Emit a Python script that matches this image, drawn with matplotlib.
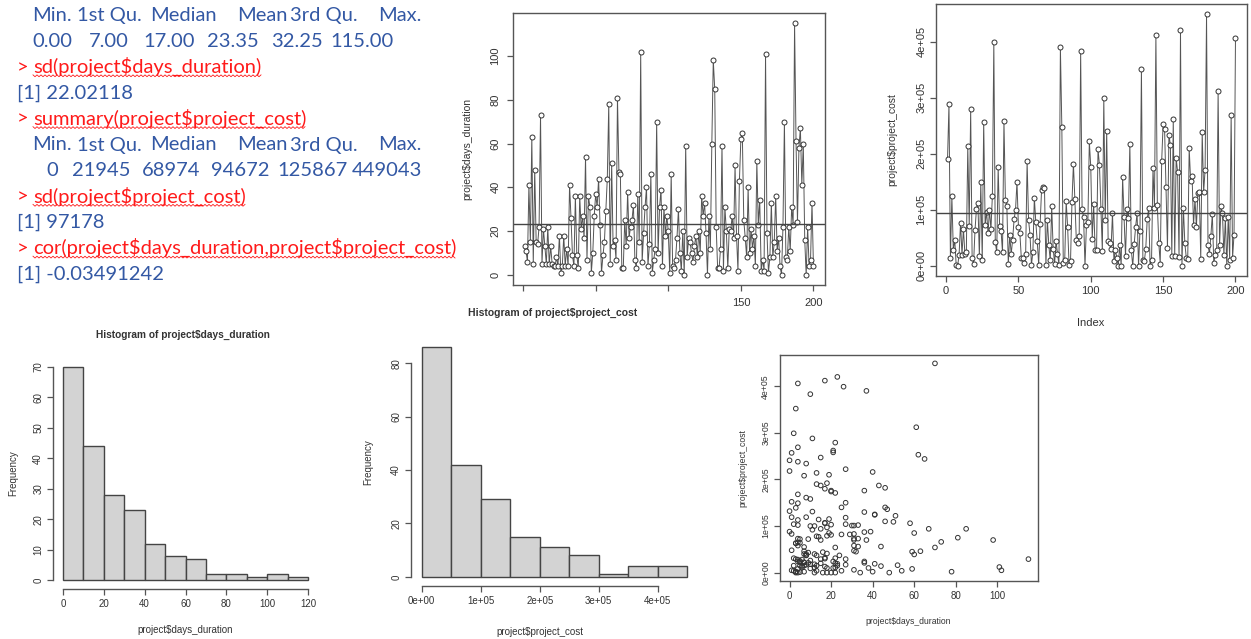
import numpy as np
import matplotlib.pyplot as plt

plt.rcParams['text.parse_math'] = False

W, H = 1251, 639

# project data, one value per project (index 1..200)
days_duration = [
    13, 11, 6, 41, 15, 63, 5, 48, 15, 14,
    22, 73, 5, 21, 13, 5, 22, 5, 13, 5,
    4, 4, 8, 4, 18, 1, 4, 18, 4, 12,
    4, 41, 26, 9, 4, 36, 9, 3, 36, 21,
    27, 17, 54, 7, 36, 31, 1, 10, 27, 37,
    31, 44, 23, 1, 9, 15, 29, 44, 78, 5,
    51, 13, 16, 7, 81, 47, 46, 3, 3, 25,
    13, 38, 17, 22, 25, 32, 7, 3, 37, 15,
    102, 6, 19, 31, 40, 4, 14, 46, 1, 7,
    12, 70, 10, 31, 39, 4, 31, 18, 27, 20,
    1, 46, 4, 3, 7, 17, 30, 10, 2, 20,
    0, 59, 8, 17, 15, 10, 6, 13, 18, 8,
    20, 10, 36, 27, 33, 19, 0, 27, 12, 60,
    98, 85, 22, 3, 3, 12, 59, 2, 31, 20,
    3, 21, 20, 27, 17, 50, 18, 2, 43, 62,
    65, 25, 17, 8, 40, 10, 21, 12, 18, 4,
    52, 23, 34, 2, 7, 2, 101, 19, 1, 8,
    33, 8, 15, 36, 11, 17, 4, 0, 22, 70,
    8, 7, 22, 11, 31, 23, 115, 61, 24, 58,
    67, 41, 60, 16, 0, 22, 4, 7, 33, 4,
]

# cost in thousands
project_cost_k = [
    190, 288, 14, 124, 29, 46, 1, 0, 20, 77,
    20, 66, 22, 24, 214, 72, 279, 15, 4, 64,
    102, 113, 17, 149, 10, 257, 73, 97, 58, 100,
    65, 125, 399, 43, 24, 176, 72, 63, 24, 258,
    118, 107, 4, 55, 21, 47, 83, 100, 150, 70,
    58, 14, 15, 5, 21, 187, 82, 56, 2, 25,
    122, 78, 44, 2, 75, 136, 140, 139, 2, 82,
    37, 10, 106, 31, 4, 45, 22, 2, 390, 247,
    5, 11, 115, 70, 2, 8, 114, 182, 119, 46,
    40, 54, 383, 101, 88, 0, 73, 79, 222, 176,
    48, 110, 28, 29, 208, 180, 101, 26, 299, 81,
    241, 45, 40, 30, 94, 9, 28, 15, 0, 37,
    0, 158, 87, 17, 102, 85, 218, 29, 0, 39,
    70, 94, 0, 63, 352, 11, 8, 31, 83, 103,
    0, 10, 174, 104, 412, 109, 41, 4, 187, 253,
    244, 140, 32, 234, 216, 18, 262, 18, 192, 168,
    16, 420, 0, 104, 40, 15, 12, 210, 152, 161,
    73, 119, 70, 130, 131, 13, 238, 132, 171, 449,
    37, 22, 54, 92, 6, 19, 29, 312, 37, 106,
    94, 19, 85, 0, 88, 11, 269, 15, 56, 406,
]
project_cost = np.array(project_cost_k) * 1000

summary_names = ['Min.', '1st Qu.', 'Median', 'Mean', '3rd Qu.', 'Max.']
days_summary = [0.00, 7.00, 17.00, 23.35, 32.25, 115.00]
cost_summary = [0, 21945, 68974, 94672, 125867, 449043]
days_sd = 22.02118
cost_sd = 97178
days_cost_cor = -0.03491242

days_bins = [0, 10, 20, 30, 40, 50, 60, 70, 80, 90, 100, 110, 120]
days_counts = [70, 44, 28, 23, 12, 8, 7, 2, 2, 1, 2, 1]
cost_bins = [0, 50000, 100000, 150000, 200000, 250000, 300000, 350000, 400000, 450000]
cost_counts = [86, 42, 29, 15, 11, 8, 1, 4, 4]

BLUE = '#3358a4'
RED = '#ff1a1a'
AX = '#555555'
TXT = '#333333'

fig = plt.figure(figsize=(W / 100, H / 100), dpi=100)
fig.patch.set_facecolor('white')


def px_axes(x0, y0, x1, y1):
    return fig.add_axes([x0 / W, 1 - y1 / H, (x1 - x0) / W, (y1 - y0) / H])


def px_text(x, y, s, **kw):
    fig.text(x / W, 1 - y / H, s, ha='center', va='center', color=TXT,
             family='Liberation Sans', **kw)


def r_axes(ax, size, box=True, pad=4, ysize=None):
    for s in ax.spines.values():
        s.set_color(AX)
        s.set_linewidth(1.0)
        s.set_visible(box)
    ax.tick_params(colors=AX, labelcolor=TXT, length=4, width=0.9,
                   labelsize=size, pad=pad)
    if ysize:
        ax.tick_params(axis='y', labelsize=ysize)
    for lab in ax.get_xticklabels() + ax.get_yticklabels():
        lab.set_family('Liberation Sans')
    plt.setp(ax.get_yticklabels(), rotation=90, va='center')


def sci(v):
    return '%de+%02d' % (int(round(v / 1e5)), 5) if v else '0e+00'


# ---- console output ----
tx = fig.add_axes([0, 0, 458 / W, 1])
tx.set_xlim(0, 458)
tx.set_ylim(H, 0)
tx.axis('off')
font = dict(family='Lato', fontsize=14.5, va='baseline', clip_on=True)
base = [21 + 25.9 * i for i in range(11)]


def row(y, items, color=BLUE):
    for x, s in items:
        tx.text(x, y, s, color=color, **font)


def command(y, s):
    tx.text(17, y, '>', color=RED, **font)
    t = tx.text(33, y, s, color=RED, **font)
    fig.canvas.draw()
    bb = t.get_window_extent().transformed(tx.transData.inverted())
    xs = np.arange(33, bb.x1, 2.0)
    ys = y + 3 + np.where(np.arange(len(xs)) % 2, 0.9, -0.9)
    tx.plot(xs, ys, color=RED, lw=0.6, clip_on=True)


head_x = [32, 77, 150, 237, 290, 378]
row(base[0], zip(head_x, summary_names))
row(base[1], zip([32, 89, 143, 207, 271, 330], ['%.2f' % v for v in days_summary]))
command(base[2], 'sd(project$days_duration)')
row(base[3], [(17, '[1] %.5f' % days_sd)])
command(base[4], 'summary(project$project_cost)')
row(base[5], zip(head_x, summary_names))
row(base[6], zip([46, 72, 142, 211, 277, 352], ['%d' % v for v in cost_summary]))
command(base[7], 'sd(project$project_cost)')
row(base[8], [(17, '[1] %d' % cost_sd)])
command(base[9], 'cor(project$days_duration,project$project_cost)')
row(base[10], [(17, '[1] %.8f' % days_cost_cor)])

idx = np.arange(1, len(days_duration) + 1)

# ---- days by index ----
ax1 = px_axes(513, 13, 825, 285)
ax1.plot(idx, days_duration, color='#555555', lw=0.7, marker='o', ms=3.6,
         mfc='white', mec='#333333', mew=0.7)
ax1.axhline(days_summary[3], color='#444444', lw=1.0)
ax1.set_xlim(1 - 0.04 * 199, 200 + 0.04 * 199)
ax1.set_ylim(-0.04 * 115, 115 * 1.04)
ax1.set_xticks([0, 50, 100, 150, 200])
ax1.set_xticklabels(['', '', '', '150', '200'])
ax1.set_yticks([0, 20, 40, 60, 80, 100])
r_axes(ax1, 8, pad=5)
px_text(467, 149, 'project$days_duration', fontsize=7.5, rotation=90)

# ---- cost by index ----
ax2 = px_axes(936, 4, 1247, 276)
ax2.plot(idx, project_cost, color='#555555', lw=0.7, marker='o', ms=3.6,
         mfc='white', mec='#333333', mew=0.7)
ax2.axhline(cost_summary[3], color='#444444', lw=1.0)
ax2.set_xlim(1 - 0.04 * 199, 200 + 0.04 * 199)
ax2.set_ylim(-0.04 * 449043, 449043 * 1.04)
ax2.set_xticks([0, 50, 100, 150, 200])
ax2.set_yticks([0, 1e5, 2e5, 3e5, 4e5])
ax2.set_yticklabels([sci(v) for v in ax2.get_yticks()])
r_axes(ax2, 8, pad=3)
px_text(892, 140, 'project$project_cost', fontsize=7.5, rotation=90)
px_text(1091, 323, 'Index', fontsize=8)

# ---- histogram of days ----
ax3 = px_axes(53, 358, 318, 589)
ax3.bar(days_bins[:-1], days_counts, width=np.diff(days_bins), align='edge',
        color='#d3d3d3', edgecolor='#444444', lw=1.0)
ax3.set_xlim(-0.04 * 120, 120 * 1.04)
ax3.set_ylim(-0.04 * 70, 70 * 1.04)
ax3.set_xticks(range(0, 121, 20))
ax3.set_yticks(range(0, 71, 10))
r_axes(ax3, 7, box=False, pad=3)
ax3.spines['left'].set_visible(True)
ax3.spines['bottom'].set_visible(True)
ax3.spines['left'].set_bounds(0, 70)
ax3.spines['bottom'].set_bounds(0, 120)
px_text(183, 335, 'Histogram of project$days_duration', fontsize=7.3, weight='bold')
px_text(13, 473, 'Frequency', fontsize=7, rotation=90)
px_text(185, 630, 'project$days_duration', fontsize=7)

# ---- histogram of cost ----
ax4 = px_axes(411, 338, 698, 586)
ax4.bar(cost_bins[:-1], cost_counts, width=np.diff(cost_bins), align='edge',
        color='#d3d3d3', edgecolor='#444444', lw=1.0)
ax4.set_xlim(-0.04 * 450000, 450000 * 1.04)
ax4.set_ylim(-0.04 * 86, 86 * 1.04)
ax4.set_xticks([0, 1e5, 2e5, 3e5, 4e5])
ax4.set_xticklabels([sci(v) for v in ax4.get_xticks()])
ax4.set_yticks(range(0, 81, 20))
r_axes(ax4, 7, box=False, pad=3)
ax4.spines['left'].set_visible(True)
ax4.spines['bottom'].set_visible(True)
ax4.spines['left'].set_bounds(0, 80)
ax4.spines['bottom'].set_bounds(0, 4e5)
px_text(553, 313, 'Histogram of project$project_cost', fontsize=7.5, weight='bold')
px_text(368, 462, 'Frequency', fontsize=7, rotation=90)
px_text(540, 632, 'project$project_cost', fontsize=7)

# ---- scatter days vs cost ----
ax5 = px_axes(780, 355, 1038, 581)
ax5.scatter(days_duration, project_cost, s=11, facecolors='none',
            edgecolors='#333333', linewidths=0.7)
ax5.set_xlim(-0.04 * 115, 115 * 1.04)
ax5.set_ylim(-0.04 * 449043, 449043 * 1.04)
ax5.set_xticks(range(0, 101, 20))
ax5.set_yticks([0, 1e5, 2e5, 3e5, 4e5])
ax5.set_yticklabels([sci(v) for v in ax5.get_yticks()])
r_axes(ax5, 7, pad=3, ysize=6.3)
px_text(743, 468, 'project$project_cost', fontsize=6.2, rotation=90)
px_text(908, 621, 'project$days_duration', fontsize=6.2)

fig.savefig('out.png', dpi=100, facecolor='white')
